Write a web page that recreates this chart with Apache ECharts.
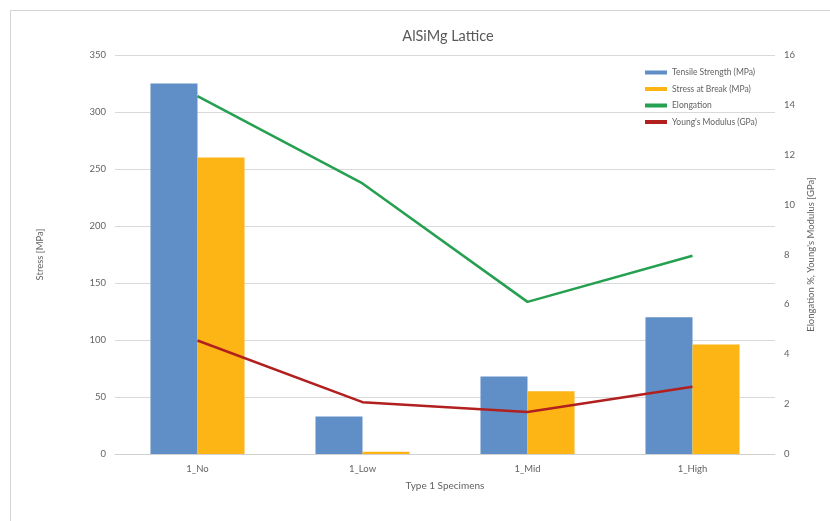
<!DOCTYPE html>
<html>
<head>
<meta charset="utf-8">
<script src="https://cdn.jsdelivr.net/npm/echarts@6/dist/echarts.min.js"></script>
<style>
  html, body { margin: 0; padding: 0; background: #ffffff; }
  #chart { width: 830px; height: 521px; }
</style>
</head>
<body>
<div id="chart"></div>
<script>
// Specimen groups
const categories = ['1_No', '1_Low', '1_Mid', '1_High'];

// Stress values (MPa), left axis
const tensileStrength = [325, 33, 68, 120];
const stressAtBreak = [260, 2, 55, 96];

// Elongation (%) and Young's modulus (GPa), right axis
const elongation = [14.35, 10.85, 6.1, 7.95];
const youngsModulus = [4.55, 2.08, 1.68, 2.7];

// Axis ticks
const leftTicks = { min: 0, max: 350, interval: 50 };
const rightTicks = { min: 0, max: 16, interval: 2 };

const FONT = 'Lato';
const TXT = '#636363';
const GRID = '#d9d9d9';

const chart = echarts.init(document.getElementById('chart'), null, { renderer: 'canvas' });

chart.setOption({
  backgroundColor: '#ffffff',
  animation: false,
  textStyle: { fontFamily: FONT },
  graphic: [{
    type: 'rect',
    shape: { x: 10.5, y: 10.5, width: 840, height: 540 },
    style: { fill: 'none', stroke: '#d4d4d4', lineWidth: 1 },
    silent: true
  }, {
    type: 'text',
    x: 448,
    y: 29,
    style: {
      text: 'AlSiMg Lattice',
      align: 'center',
      verticalAlign: 'top',
      fill: '#595959',
      font: 'normal 14.5px ' + FONT
    },
    silent: true
  }],
  legend: {
    orient: 'vertical',
    left: 640,
    top: 63,
    itemWidth: 22,
    itemHeight: 4,
    itemGap: 7.5,
    icon: 'rect',
    textStyle: { fontFamily: FONT, fontSize: 8.5, color: TXT },
    data: ['Tensile Strength (MPa)', 'Stress at Break (MPa)', 'Elongation', "Young's Modulus (GPa)"]
  },
  grid: { left: 115, right: 55, top: 55, bottom: 67 },
  xAxis: {
    type: 'category',
    data: categories,
    name: 'Type 1 Specimens',
    nameLocation: 'middle',
    nameGap: 27,
    nameTextStyle: { fontFamily: FONT, fontSize: 10, color: TXT },
    axisLine: { lineStyle: { color: '#d0d0d0', width: 1 } },
    axisTick: { show: false },
    axisLabel: { fontFamily: FONT, fontSize: 9.5, color: TXT, margin: 10 }
  },
  yAxis: [{
    type: 'value',
    min: leftTicks.min, max: leftTicks.max, interval: leftTicks.interval,
    name: 'Stress [MPa]',
    nameLocation: 'middle',
    nameGap: 70,
    nameRotate: 90,
    nameTextStyle: { fontFamily: FONT, fontSize: 9.5, color: TXT },
    axisLine: { show: false },
    axisTick: { show: false },
    axisLabel: { fontFamily: FONT, fontSize: 9.5, color: TXT, margin: 9 },
    splitLine: { lineStyle: { color: GRID, width: 1 } }
  }, {
    type: 'value',
    min: rightTicks.min, max: rightTicks.max, interval: rightTicks.interval,
    name: "Elongation %, Young's Modulus [GPa]",
    nameLocation: 'middle',
    nameGap: 30,
    nameRotate: 90,
    nameTextStyle: { fontFamily: FONT, fontSize: 9.5, color: TXT },
    axisLine: { show: false },
    axisTick: { show: false },
    axisLabel: { fontFamily: FONT, fontSize: 9.5, color: TXT, margin: 9 },
    splitLine: { show: false }
  }],
  series: [{
    name: 'Tensile Strength (MPa)',
    type: 'bar',
    data: tensileStrength,
    barWidth: '28.5%',
    barGap: '0%',
    itemStyle: { color: '#5f8fc6' }
  }, {
    name: 'Stress at Break (MPa)',
    type: 'bar',
    data: stressAtBreak,
    barWidth: '28.5%',
    itemStyle: { color: '#fdb515' }
  }, {
    name: 'Elongation',
    type: 'line',
    yAxisIndex: 1,
    data: elongation,
    symbol: 'none',
    lineStyle: { color: '#25a050', width: 2.5 },
    itemStyle: { color: '#25a050' }
  }, {
    name: "Young's Modulus (GPa)",
    type: 'line',
    yAxisIndex: 1,
    data: youngsModulus,
    symbol: 'none',
    lineStyle: { color: '#b21f1f', width: 2.5 },
    itemStyle: { color: '#b21f1f' }
  }]
});
</script>
</body>
</html>
